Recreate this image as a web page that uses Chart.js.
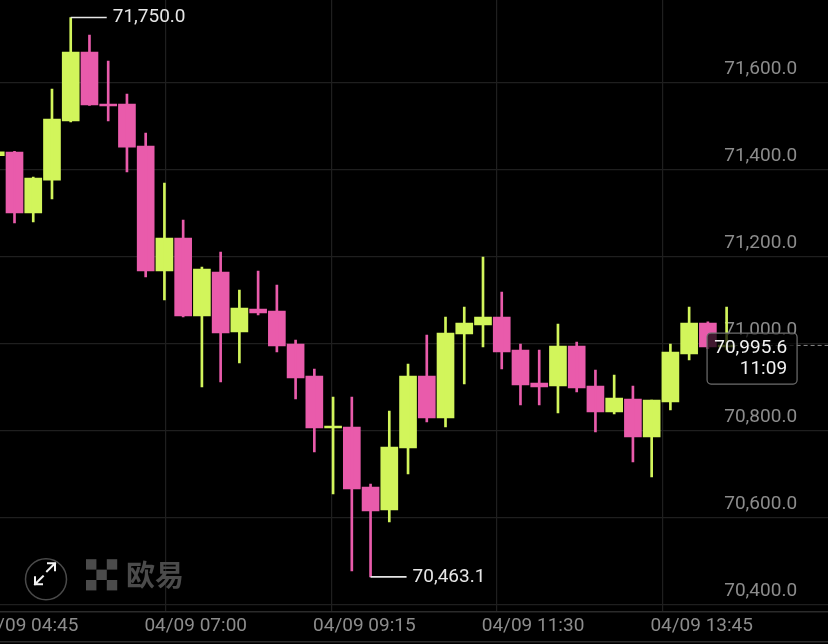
<!DOCTYPE html>
<html>
<head>
<meta charset="utf-8">
<title>BTC 15m</title>
<script src="https://cdn.jsdelivr.net/npm/chart.js@4/dist/chart.umd.min.js"></script>
<style>
    html, body { margin: 0; padding: 0; background: #000; }
    #chart-div { width: 828px; height: 644px; }
</style>
</head>
<body>
<div id="chart-div"><canvas id="chart"></canvas></div>
<script>
// 15 minute candles
const opens  = [71432.0, 71440.6, 71300.3, 71376.0, 71512.0, 71670.7, 71551.0, 71551.0, 71454.4, 71166.8,
                71242.8, 71063.3, 71164.5, 71026.5, 71079.4, 71074.8, 70998.9, 70925.3, 70805.7, 70808.0,
                70669.9, 70617.0, 70759.6, 70925.3, 70828.6, 71021.9, 71042.6, 71061.0, 70985.1, 70909.2,
                70902.3, 70994.3, 70902.3, 70842.5, 70872.4, 70784.9, 70865.5, 70975.9, 71047.2, 70992.0]
const highs  = [71445.0, 71442.0, 71383.0, 71585.5, 71750.0, 71709.8, 71650.0, 71574.0, 71484.3, 71369.3,
                71284.2, 71176.0, 71210.6, 71123.0, 71166.8, 71134.6, 71008.0, 70941.4, 70877.0, 70877.0,
                70676.8, 70844.8, 70952.9, 71019.6, 71061.0, 71084.0, 71199.0, 71118.5, 70998.9, 70985.1,
                71044.9, 71003.5, 70939.1, 70927.6, 70902.3, 70870.1, 70998.9, 71084.0, 71050.0, 71084.0]
const lows   = [71425.0, 71277.3, 71279.6, 71332.5, 71510.0, 71548.0, 71512.0, 71394.6, 71153.0, 71100.1,
                71061.0, 70900.0, 70911.5, 70955.2, 71065.6, 70980.5, 70872.4, 70750.4, 70653.8, 70477.0,
                70463.1, 70589.4, 70699.8, 70819.4, 70808.0, 70906.9, 70992.0, 70941.4, 70858.6, 70858.6,
                70840.2, 70888.5, 70796.5, 70837.9, 70727.4, 70692.9, 70847.1, 70962.1, 70988.0, 70985.0]
const closes = [71441.0, 71300.3, 71380.8, 71516.5, 71670.7, 71548.7, 71546.4, 71452.0, 71166.8, 71242.8,
                71063.3, 71171.4, 71024.2, 71081.7, 71070.2, 70994.3, 70920.7, 70805.7, 70808.0, 70665.3,
                70614.7, 70761.9, 70925.3, 70828.6, 71024.2, 71047.2, 71061.0, 70980.5, 70904.6, 70900.0,
                70994.3, 70897.7, 70842.5, 70874.7, 70784.9, 70870.1, 70980.5, 71047.2, 70992.0, 70995.6]

const priceTicks = [70400, 70600, 70800, 71000, 71200, 71400, 71600]
const timeLabels = ['04/09 04:45', '04/09 07:00', '04/09 09:15', '04/09 11:30', '04/09 13:45']
const timeSlots = [0, 9, 18, 27, 36]
// where the vertical grid lines fall, in candle slots
const gridSlots = [9.07, 17.94, 26.73, 35.57]
const countdown = '11:09'

const UP = '#d2f55b'
const DOWN = '#e95bab'
const FONT = 'Roboto'
const X_MIN = 0.226
const X_MAX = 44.41
const PRICE_EDGE = 42.76   // slot where the price labels end

const fmt = v => v.toLocaleString('en-US', { minimumFractionDigits: 1, maximumFractionDigits: 1 })
const candleColors = opens.map((o, i) => closes[i] >= o ? UP : DOWN)

const overlay = {
    id: 'overlay',
    beforeDatasetsDraw(chart) {
        const { ctx, chartArea } = chart
        const bottom = chartArea.bottom
        ctx.save()
        // axis rules
        ctx.strokeStyle = '#2b2b2b'
        ctx.lineWidth = 1.5
        ctx.beginPath()
        ctx.moveTo(0, bottom)
        ctx.lineTo(chart.width, bottom)
        ctx.moveTo(0, bottom + 30)
        ctx.lineTo(chart.width, bottom + 30)
        ctx.stroke()

        // expand button
        const cx = 46, cy = bottom - 32.4
        ctx.strokeStyle = '#4a4a4a'
        ctx.lineWidth = 1.5
        ctx.beginPath()
        ctx.arc(cx, cy, 20.5, 0, Math.PI * 2)
        ctx.stroke()
        ctx.strokeStyle = '#f2f2f2'
        ctx.lineWidth = 2
        ctx.lineCap = 'square'
        ctx.beginPath()
        ctx.moveTo(cx - 11, cy + 5); ctx.lineTo(cx - 3, cy - 3)
        ctx.moveTo(cx - 11, cy - 2); ctx.lineTo(cx - 11, cy + 5); ctx.lineTo(cx - 4, cy + 5)
        ctx.moveTo(cx + 9, cy - 16); ctx.lineTo(cx + 1, cy - 8)
        ctx.moveTo(cx + 2, cy - 16); ctx.lineTo(cx + 9, cy - 16); ctx.lineTo(cx + 9, cy - 9)
        ctx.stroke()

        // logo
        ctx.fillStyle = '#4b4b4b'
        const lx = 86, ly = bottom - 52.5, s = 10.4
        for (const [c, r] of [[0, 0], [2, 0], [1, 1], [0, 2], [2, 2]]) {
            ctx.fillRect(lx + c * s, ly + r * s, s, s)
        }
        ctx.font = 'bold 29px "Noto Sans CJK SC"'
        ctx.textBaseline = 'middle'
        ctx.textAlign = 'left'
        ctx.fillText('欧易', 126, bottom - 37)
        ctx.restore()
    },
    afterDatasetsDraw(chart) {
        const { ctx } = chart
        const xs = chart.scales.x
        const ys = chart.scales.y
        ctx.save()
        ctx.font = `19px ${FONT}`
        ctx.textBaseline = 'middle'
        ctx.textAlign = 'left'

        // highest high / lowest low markers
        const hi = highs.indexOf(Math.max(...highs))
        const lo = lows.indexOf(Math.min(...lows))
        for (const [i, v] of [[hi, highs[hi]], [lo, lows[lo]]]) {
            const px = xs.getPixelForValue(i)
            const py = ys.getPixelForValue(v)
            ctx.strokeStyle = '#e6e6e6'
            ctx.lineWidth = 1.6
            ctx.beginPath()
            ctx.moveTo(px, py)
            ctx.lineTo(px + 36, py)
            ctx.stroke()
            ctx.fillStyle = '#e6e6e6'
            ctx.fillText(fmt(v), px + 42, py)
        }

        // last price line and box
        const last = closes.length - 1
        const py = ys.getPixelForValue(closes[last])
        ctx.strokeStyle = '#8a8a8a'
        ctx.lineWidth = 1
        ctx.setLineDash([4, 3])
        ctx.beginPath()
        ctx.moveTo(xs.getPixelForValue(last), py)
        ctx.lineTo(chart.width, py)
        ctx.stroke()
        ctx.setLineDash([])

        const right = xs.getPixelForValue(PRICE_EDGE)
        const left = right - 90
        const top = py - 12.4
        ctx.fillStyle = 'rgba(0, 0, 0, 0.72)'
        ctx.strokeStyle = '#6e6e6e'
        ctx.lineWidth = 1.2
        ctx.beginPath()
        ctx.roundRect(left, top, 90, 51, 4)
        ctx.fill()
        ctx.stroke()
        ctx.fillStyle = '#f2f2f2'
        ctx.textAlign = 'right'
        ctx.fillText(fmt(closes[last]), right - 10, py + 3)
        ctx.fillText(countdown, right - 10, py + 24)
        ctx.restore()
    }
}

new Chart(document.getElementById('chart'), {
    type: 'bar',
    data: {
        datasets: [{
            label: 'wick',
            data: highs.map((h, i) => ({ x: i, y: [lows[i], h] })),
            backgroundColor: candleColors,
            barThickness: 2,
            grouped: false
        }, {
            label: 'body',
            data: opens.map((o, i) => ({ x: i, y: [o, closes[i]] })),
            backgroundColor: candleColors,
            barThickness: 17,
            minBarLength: 2,
            grouped: false
        }]
    },
    options: {
        responsive: true,
        maintainAspectRatio: false,
        animation: false,
        events: [],
        layout: { autoPadding: false, padding: { left: 0, right: 0, top: 0, bottom: 3.5 } },
        plugins: { legend: { display: false }, tooltip: { enabled: false } },
        scales: {
            x: {
                type: 'linear',
                bounds: 'data',
                offset: false,
                min: X_MIN,
                max: X_MAX,
                afterBuildTicks: axis => { axis.ticks = gridSlots.map(v => ({ value: v })) },
                grid: { color: '#1f1f1f', drawTicks: false, lineWidth: 1.2, offset: false },
                border: { display: false },
                ticks: { display: false }
            },
            xTime: {
                type: 'linear',
                position: 'bottom',
                bounds: 'data',
                offset: false,
                min: X_MIN,
                max: X_MAX,
                afterBuildTicks: axis => { axis.ticks = timeSlots.map(v => ({ value: v })) },
                // the first label is allowed to run off the left edge
                afterFit: axis => { axis.paddingLeft = 0; axis.paddingRight = 0 },
                grid: { display: false, drawTicks: false, offset: false },
                border: { display: false },
                ticks: {
                    padding: 3,
                    align: 'start',
                    labelOffset: -20,
                    maxRotation: 0,
                    autoSkip: false,
                    color: '#8c8c8c',
                    font: { family: FONT, size: 19 },
                    callback: (v, i) => timeLabels[i]
                }
            },
            y: {
                type: 'linear',
                position: { x: PRICE_EDGE },
                bounds: 'data',
                min: 70383.0,
                max: 71790.3,
                afterBuildTicks: axis => { axis.ticks = priceTicks.map(v => ({ value: v })) },
                grid: { color: '#1f1f1f', drawTicks: false, lineWidth: 1.2 },
                border: { display: false },
                ticks: {
                    padding: 0,
                    align: 'start',
                    labelOffset: -23,
                    color: '#8c8c8c',
                    font: { family: FONT, size: 19 },
                    callback: v => fmt(v)
                }
            }
        }
    },
    plugins: [overlay]
})
</script>
</body>
</html>
